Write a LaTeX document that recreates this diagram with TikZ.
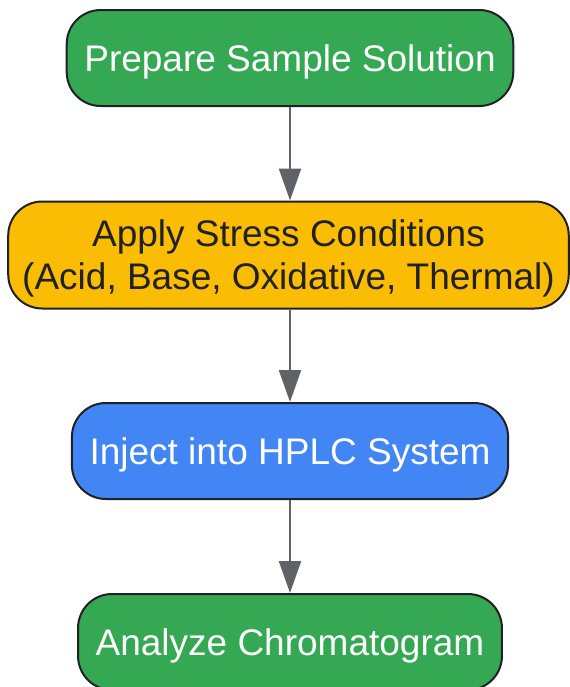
\documentclass[tikz,border=0pt]{standalone}
\usepackage{fontspec}
\setmainfont{Liberation Sans}
\usepackage{tikz}
\usetikzlibrary{arrows.meta,%
                shapes,positioning}

\definecolor{stepgreen}{HTML}{34A853}
\definecolor{stepyellow}{HTML}{FBBC04}
\definecolor{stepblue}{HTML}{4285F4}
\definecolor{stepborder}{HTML}{202124}
\definecolor{flowgray}{HTML}{5F6368}

\begin{document}
\begin{tikzpicture}[x=0.5pt,y=-0.5pt,
    stepbox/.style={draw=stepborder, line width=1pt, rounded corners=17pt,
        align=center, inner xsep=8.8pt, minimum height=48pt, text depth=0pt,
        font=\fontsize{18.5}{21.5}\selectfont},
    flowline/.style={-{Triangle[width=11pt,length=16pt]}, line width=1.2pt, draw=flowgray, fill=flowgray}]
\useasboundingbox (0,0) rectangle (569,687);

\node[stepbox, fill=stepgreen, text=white] (prep) at (290,58) {Prepare Sample Solution};
\node[stepbox, fill=stepyellow, text=stepborder, minimum height=53.5pt, inner xsep=7pt] (stress) at (288.5,255) {Apply Stress Conditions\\(Acid, Base, Oxidative, Thermal)};
\node[stepbox, fill=stepblue, text=white] (inject) at (290,451) {Inject into HPLC System};
\node[stepbox, fill=stepgreen, text=white] (analyze) at (290,642) {Analyze Chromatogram};

\draw[flowline] (prep) -- (prep |- stress.north);
\draw[flowline] (inject |- stress.south) -- (inject);
\draw[flowline] (inject) -- (analyze);
\end{tikzpicture}
\end{document}
